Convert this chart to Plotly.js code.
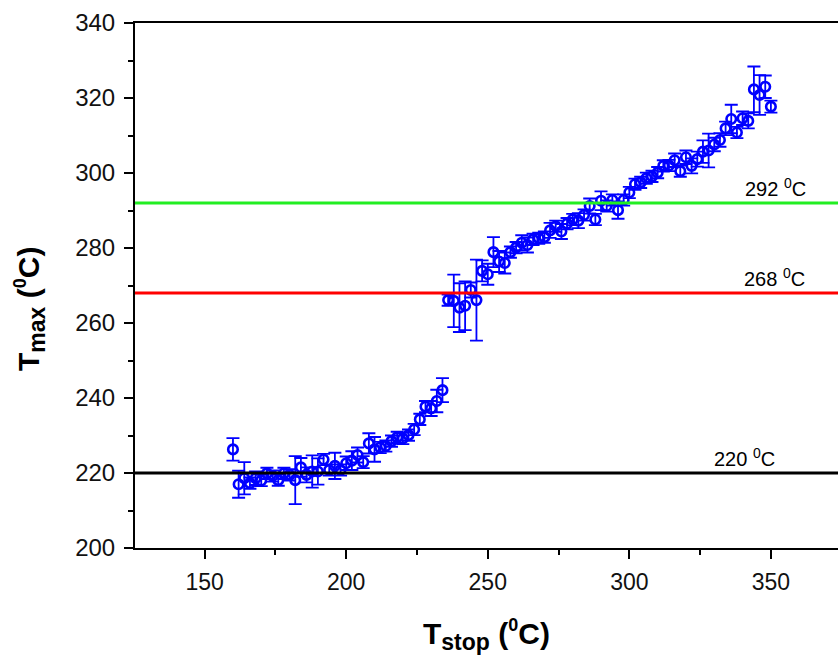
<!DOCTYPE html>
<html>
<head>
<meta charset="utf-8">
<script src="https://cdn.plot.ly/plotly-3.0.1.min.js"></script>
<style>
  html, body { margin: 0; padding: 0; background: #ffffff; }
  #chart { width: 838px; height: 661px; }
</style>
</head>
<body>
<div id="chart"></div>
<script>
// T_stop values (°C)
var tStop = [160,162,164,166,168,170,172,174,176,178,180,182,184,186,188,190,192,194,196,198,
             200,202,204,206,208,210,212,214,216,218,220,222,224,226,228,230,232,234,
             236,238,240,242,244,246,248,250,252,254,256,258,260,262,264,266,268,270,
             272,274,276,278,280,282,284,286,288,290,292,294,296,298,300,302,304,306,
             308,310,312,314,316,318,320,322,324,326,328,330,332,334,336,338,340,342,
             344,346,348,350];
// T_max values (°C)
var tMax = [226.3,217.0,218.6,217.3,218.6,218.0,219.9,219.2,218.1,219.9,219.5,218.1,221.5,219.5,220.4,220.4,223.6,220.8,221.9,220.8,
            222.6,223.3,224.8,222.9,227.9,226.3,226.8,227.2,228.5,229.5,229.2,230.1,231.6,234.3,237.7,237.2,239.2,242.1,
            266.1,265.9,264.1,264.6,268.8,266.1,273.9,273.0,278.9,276.4,276.0,278.9,280.1,281.4,280.8,282.3,282.6,282.9,
            284.7,285.8,284.4,286.5,287.6,287.3,288.8,291.2,287.6,292.6,291.2,292.8,290.1,292.8,294.8,297.0,297.5,298.6,
            299.1,300.1,301.9,302.0,303.4,300.5,304.2,301.9,303.7,305.7,306.0,307.6,308.8,311.9,314.4,310.8,314.6,313.9,
            322.3,320.8,323.0,317.7];
// error bar half-lengths (°C)
var tErr = [3.0,3.6,4.3,1.5,1.8,1.5,1.5,1.5,1.5,1.5,1.5,6.4,2.5,2.0,4.3,3.5,1.5,1.5,3.5,1.5,
            1.8,2.5,2.0,1.6,2.7,3.3,1.5,1.5,1.5,1.5,1.5,1.5,1.5,1.5,1.5,2.0,3.0,3.2,
            1.5,7.0,6.5,6.5,2.0,10.8,2.8,2.8,4.0,2.8,2.8,1.5,1.5,2.0,2.0,1.5,1.5,1.5,
            2.0,1.5,2.0,1.5,1.5,2.0,1.5,2.0,1.5,2.5,1.5,1.5,2.3,1.5,1.5,1.5,1.5,1.5,
            1.5,1.5,1.5,1.5,1.8,1.5,1.8,2.0,2.0,3.0,4.5,1.8,1.8,1.8,3.8,1.5,1.8,2.0,
            6.1,5.3,3.0,1.6];
// reference levels
var refLevels = [220, 268, 292];
var refLabels = ['220 <sup>0</sup>C', '268 <sup>0</sup>C', '292 <sup>0</sup>C'];
var refColors = ['#000000', '#ff0000', '#22ee22'];
var refLabelX = [340.5, 351.3, 351.5];

var font = 'Liberation Sans, Arial, sans-serif';

var trace = {
  x: tStop, y: tMax, type: 'scatter', mode: 'markers',
  marker: { symbol: 'circle-open', size: 9.5, color: '#0000ff', line: { width: 2.6, color: '#0000ff' } },
  error_y: { type: 'data', array: tErr, visible: true, color: '#0000ff', thickness: 1.8, width: 6.5 },
  showlegend: false, cliponaxis: false
};

var shapes = refLevels.map(function (v, i) {
  return { type: 'line', xref: 'paper', x0: 0, x1: 1, yref: 'y', y0: v, y1: v,
           line: { color: refColors[i], width: 3 }, layer: 'above' };
});

var annotations = refLevels.map(function (v, i) {
  return { x: refLabelX[i], y: v, xref: 'x', yref: 'y', text: refLabels[i], showarrow: false,
           xanchor: 'center', yanchor: 'bottom', yshift: 1,
           font: { family: font, size: 20, color: '#000000' } };
});
// x-axis title
annotations.push({
  x: 0.5, y: -0.165, xref: 'paper', yref: 'paper',
  text: '<b>T<sub><span style="font-size:23px">stop</span></sub> (<sup><span style="font-size:18px">0</span></sup>C)</b>',
  showarrow: false, xanchor: 'center', yanchor: 'middle',
  font: { family: font, size: 30, color: '#000000' }
});
// y-axis title
annotations.push({
  x: (30 - 135) / 703, y: (548 - 309) / 525, xref: 'paper', yref: 'paper',
  text: '<b>T<sub><span style="font-size:23px">max</span></sub> (<sup><span style="font-size:18px">0</span></sup>C)</b>',
  showarrow: false, xanchor: 'center', yanchor: 'middle', textangle: -90,
  font: { family: font, size: 30, color: '#000000' }
});

var layout = {
  width: 838, height: 661,
  margin: { l: 135, r: 0, t: 23, b: 113 },
  paper_bgcolor: '#ffffff', plot_bgcolor: '#ffffff',
  showlegend: false,
  xaxis: {
    range: [125.4, 373.7], tickvals: [150, 200, 250, 300, 350],
    ticks: 'outside', ticklen: 9, tickwidth: 2, tickcolor: '#000000',
    minor: { tickvals: [175, 225, 275, 325], ticks: 'outside', ticklen: 5, tickwidth: 2, tickcolor: '#000000' },
    showline: true, linecolor: '#000000', linewidth: 2, mirror: true,
    showgrid: false, zeroline: false,
    tickfont: { family: font, size: 23, color: '#111111' },
    ticklabelstandoff: 3
  },
  yaxis: {
    range: [200, 340], tickvals: [200, 220, 240, 260, 280, 300, 320, 340],
    ticks: 'outside', ticklen: 9, tickwidth: 2, tickcolor: '#000000',
    minor: { tickvals: [210, 230, 250, 270, 290, 310, 330], ticks: 'outside', ticklen: 5, tickwidth: 2, tickcolor: '#000000' },
    showline: true, linecolor: '#000000', linewidth: 2, mirror: false,
    showgrid: false, zeroline: false,
    tickfont: { family: font, size: 24, color: '#111111' },
    ticklabelstandoff: 4
  },
  shapes: shapes,
  annotations: annotations
};

Plotly.newPlot('chart', [trace], layout, { displayModeBar: false, staticPlot: true });
</script>
</body>
</html>
